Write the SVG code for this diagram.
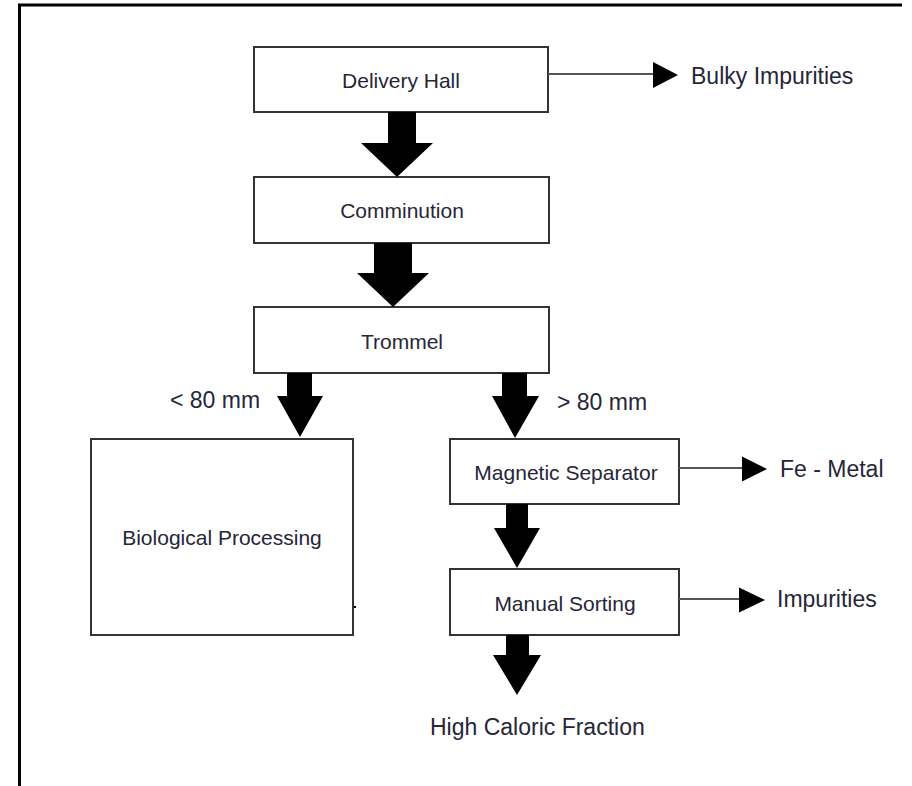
<svg xmlns="http://www.w3.org/2000/svg" width="912" height="786" viewBox="0 0 912 786">
<defs>
<style>
.box{fill:#fff;stroke:#333;stroke-width:2}
.lbl{font-family:"Liberation Sans",Arial,sans-serif;font-size:21px;fill:#262638;text-anchor:middle}
.side{font-family:"Liberation Sans",Arial,sans-serif;font-size:23px;fill:#262638}
.blk{fill:#000}
.ln{stroke:#555;stroke-width:2;fill:none}
</style>
</defs>
<rect width="912" height="786" fill="#fff"/>
<path d="M19.5,786 V5 H902" fill="none" stroke="#000" stroke-width="3"/>
<g id="delivery-hall"><rect class="box" x="254" y="47" width="294" height="65"/><text class="lbl" x="401" y="88">Delivery Hall</text></g>
<g id="comminution"><rect class="box" x="254" y="177" width="295" height="66"/><text class="lbl" x="402" y="218">Comminution</text></g>
<g id="trommel"><rect class="box" x="254" y="307" width="295" height="66"/><text class="lbl" x="402" y="349">Trommel</text></g>
<g id="biological-processing"><rect class="box" x="91" y="439" width="262" height="196"/><text class="lbl" x="222" y="545">Biological Processing</text><rect x="354" y="606" width="2" height="2" fill="#000"/></g>
<g id="magnetic-separator"><rect class="box" x="450" y="439" width="229" height="65"/><text class="lbl" x="566" y="480">Magnetic Separator</text></g>
<g id="manual-sorting"><rect class="box" x="450" y="569" width="229" height="66"/><text class="lbl" x="565" y="611">Manual Sorting</text></g>
<g id="connectors">
<polygon class="blk" points="388,112 416,112 416,143 433,143 397,177 361,143 388,143"/>
<polygon class="blk" points="374,243 412,243 412,273 429,273 393,307 357,273 374,273"/>
<polygon class="blk" points="287,373 312,373 312,396 323,396 300,437 277,396 287,396"/>
<polygon class="blk" points="502,373 527,373 527,396 539,396 515,438 492,396 502,396"/>
<polygon class="blk" points="506,504 528,504 528,528 540,528 517,568 494,528 506,528"/>
<polygon class="blk" points="506,635 529,635 529,655 541,655 517,695 493,655 506,655"/>
<line class="ln" x1="548" y1="74" x2="654" y2="74"/>
<polygon class="blk" points="653,62 678,75 653,88"/>
<line class="ln" x1="679" y1="468" x2="743" y2="468"/>
<polygon class="blk" points="742,456.5 767,469 742,481.5"/>
<line class="ln" x1="679" y1="599" x2="740" y2="599"/>
<polygon class="blk" points="739,587.5 765,600 739,612.5"/>
</g>
<g id="labels">
<text class="side" x="691" y="84">Bulky Impurities</text>
<text class="side" x="170" y="408">&lt; 80 mm</text>
<text class="side" x="557" y="410">&gt; 80 mm</text>
<text class="side" x="780" y="477">Fe - Metal</text>
<text class="side" x="777" y="607">Impurities</text>
<text class="side" x="430" y="735">High Caloric Fraction</text>
</g>
</svg>
